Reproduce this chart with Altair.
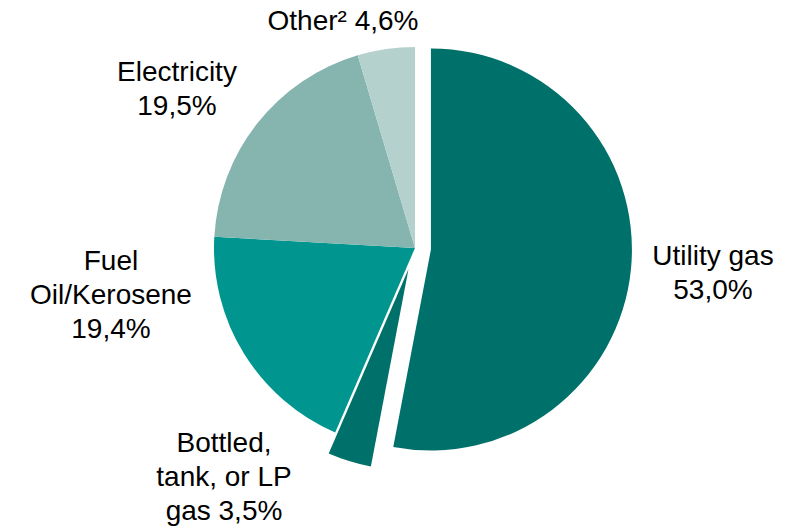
import math
import altair as alt
import pandas as pd

# ---- data ----
categories = ["Utility gas", "Bottled, tank, or LP gas", "Fuel Oil/Kerosene", "Electricity", "Other²"]
shares = [53.0, 3.5, 19.4, 19.5, 4.6]
label_text = [
    "Utility gas\n53,0%",
    "Bottled,\ntank, or LP\ngas 3,5%",
    "Fuel\nOil/Kerosene\n19,4%",
    "Electricity\n19,5%",
    "Other² 4,6%",
]
colors = ["#00706A", "#00706A", "#00968F", "#86B5B0", "#B5D1CE"]

# ---- layout / style ----
W, H = 778, 521
CX, CY, R = 407, 240, 201
explode = {"Utility gas": 16, "Bottled, tank, or LP gas": 22}
# position of the first line of each label (plot-area pixels)
label_pos = {
    "Utility gas": (705, 249),
    "Bottled, tank, or LP gas": (216, 436),
    "Fuel Oil/Kerosene": (103, 254),
    "Electricity": (169, 65),
    "Other²": (335, 14),
}

df = pd.DataFrame({
    "category": categories,
    "share": shares,
    "order": list(range(len(categories))),
    "explode": [explode.get(c, 0) for c in categories],
})

color_scale = alt.Scale(domain=categories, range=colors)

pie = (
    alt.Chart(df)
    .transform_stack(stack="share", groupby=[], as_=["s0", "s1"], sort=[alt.SortField("order")])
    .transform_calculate(
        mid="(datum.s0 + datum.s1) / 2 / 100 * 2 * PI",
    )
    .transform_calculate(
        cx=f"{CX} + datum.explode * sin(datum.mid)",
        cy=f"{CY} - datum.explode * cos(datum.mid)",
    )
    .mark_arc(outerRadius=R)
    .encode(
        theta=alt.Theta("s0:Q", scale=alt.Scale(domain=[0, 100], range=[0, 2 * math.pi])),
        theta2="s1:Q",
        x=alt.X("cx:Q", scale=None),
        y=alt.Y("cy:Q", scale=None),
        color=alt.Color("category:N", scale=color_scale, legend=None),
    )
)

ldf = pd.DataFrame({
    "category": categories,
    "label": label_text,
    "lx": [label_pos[c][0] for c in categories],
    "ly": [label_pos[c][1] for c in categories],
})

labels = (
    alt.Chart(ldf)
    .mark_text(
        font="Liberation Sans",
        fontSize=28,
        color="#000000",
        align="center",
        baseline="middle",
        lineBreak="\n",
        lineHeight=34,
    )
    .encode(
        x=alt.X("lx:Q", scale=None),
        y=alt.Y("ly:Q", scale=None),
        text="label:N",
    )
)

chart = (
    alt.layer(pie, labels)
    .properties(width=W, height=H, padding=0, autosize="none")
    .configure_view(stroke=None)
)

chart.save("out.html", embed_options={"renderer": "svg", "actions": False})
